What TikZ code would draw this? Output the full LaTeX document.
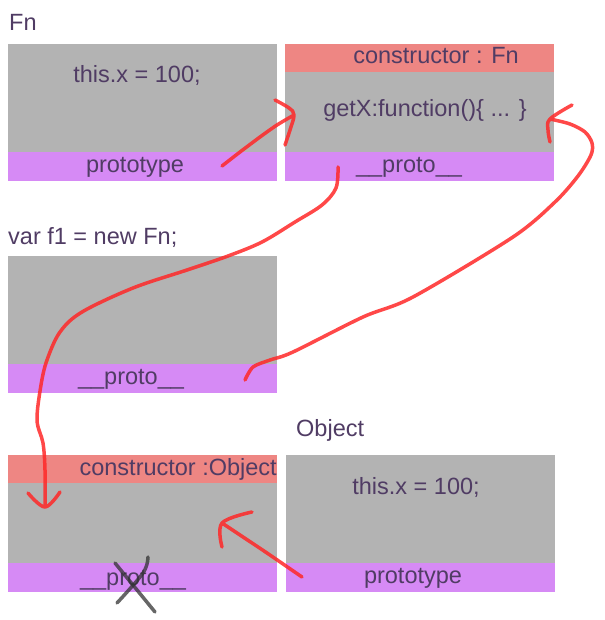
\documentclass[tikz,border=0pt]{standalone}
\usepackage{fontspec}
\setmainfont{Liberation Sans}
\usetikzlibrary{positioning}

\definecolor{boxgray}{RGB}{179,179,179}
\definecolor{slotviolet}{RGB}{214,138,245}
\definecolor{ctorred}{RGB}{238,134,131}
\definecolor{labelink}{RGB}{80,60,100}
\definecolor{penred}{RGB}{255,40,40}

\tikzset{
  cell/.style={anchor=north west, inner sep=0pt, minimum width=269pt},
  bodycell/.style={cell, fill=boxgray},
  slotcell/.style={cell, fill=slotviolet, minimum height=29pt},
  ctorcell/.style={cell, fill=ctorred, minimum height=28pt},
  txt/.style={text=labelink, inner sep=0pt, font=\fontsize{23.5}{27}\selectfont},
  pen/.style={draw=penred, line width=3.5pt, line cap=round, line join=round, opacity=0.85},
  cross/.style={draw=black!80, line width=3.5pt, line cap=round, opacity=0.75}
}

\begin{document}
\begin{tikzpicture}[x=1pt, y=-1pt]
		\useasboundingbox (0,0) rectangle (604,620);
		
		% Fn
		\node[txt, anchor=base west] (fnname) at (9,31) {Fn};
		\node[bodycell, minimum height=108pt] (fnbody) at (8,44) {};
		\node[slotcell] (fnslot) at (8,152) {};
		\node[txt, anchor=base] (fnthis) at (137,83) {this.x = 100;};
		\node[txt, anchor=base] (fnslottxt) at (135,173) {prototype};
		
		% Fn.prototype
		\node[ctorcell] (fpctor) at (285,44) {};
		\node[bodycell, minimum height=80pt] (fpbody) at (285,72) {};
		\node[slotcell] (fpslot) at (285,152) {};
		\node[txt, anchor=base] (fpctortxt) at (436,64) {constructor : Fn};
		\node[txt, anchor=base] (fpgetx) at (425,117) {getX:function()\{ ... \}};
		\node[txt, anchor=base] (fpslottxt) at (409,173) {\_\_proto\_\_};
		
		% f1
		\node[txt, anchor=base west] (fname) at (8,244) {var f1 = new Fn;};
		\node[bodycell, minimum height=108pt] (fbody) at (8,256) {};
		\node[slotcell] (fslot) at (8,364) {};
		\node[txt, anchor=base] (fslottxt) at (131,384) {\_\_proto\_\_};
		
		% Object.prototype
		\node[ctorcell] (opctor) at (8,455) {};
		\node[bodycell, minimum height=80pt] (opbody) at (8,483) {};
		\node[slotcell] (opslot) at (8,563) {};
		\node[txt, anchor=base east] (opctortxt) at (277,475) {constructor :Object};
		\node[txt, anchor=base] (opslottxt) at (133,585) {\_\_proto\_\_};
		
		% Object
		\node[txt, anchor=base west] (oname) at (296,436) {Object};
		\node[bodycell, minimum height=108pt] (obody) at (286,455) {};
		\node[slotcell] (oslot) at (286,563) {};
		\node[txt, anchor=base] (othis) at (416,494) {this.x = 100;};
		\node[txt, anchor=base] (oslottxt) at (413,583) {prototype};
		
		% pen strokes
		\coordinate (fnptr) at (222,166);
		\coordinate (fptip) at (294,115);
		\coordinate (fpptr) at (338,167);
		\coordinate (optip) at (45,507);
		\coordinate (fptr) at (245,380);
		\coordinate (fptip2) at (550,119);
		\coordinate (optr) at (302,577);
		\coordinate (optip2) at (222,523);
		
		\draw[pen] plot[smooth, tension=0.5] coordinates {(fnptr) (240,152) (260,137) (277,125) (fptip)}
			plot[smooth, tension=0.6] coordinates {(275,100) (289,108) (fptip) (290,130) (285,145)};
		\draw[pen] plot[smooth, tension=0.55] coordinates {(fpptr) (336,188) (322,205) (295,222) (262,242) (228,256) (187,270) (133,288) (82,312) (60,332) (47,360) (41,385) (37,420) (43,443) (45,470) (optip)}
			plot[smooth, tension=0.6] coordinates {(28,493) (optip) (60,492)};
		\draw[pen] plot[smooth, tension=0.5] coordinates {(fptr) (253,367) (270,360) (293,352) (363,317) (413,297) (513,237) (555,202) (578,176) (591,155) (592,143) (585,132) (570,124) (fptip2)}
			plot[smooth, tension=0.6] coordinates {(572,105) (fptip2) (548,130) (550,142)};
		\draw[pen] plot[smooth, tension=0.5] coordinates {(optr) (267,553) (243,537) (optip2)}
			plot[smooth, tension=0.6] coordinates {(252,512) (optip2) (222,547)};
		
		% crossed out
		\draw[cross] (115,563) -- (155,612);
		\draw[cross] plot[smooth, tension=0.6] coordinates {(148,557) (143,573) (117,603)};
		\end{tikzpicture}
\end{document}
